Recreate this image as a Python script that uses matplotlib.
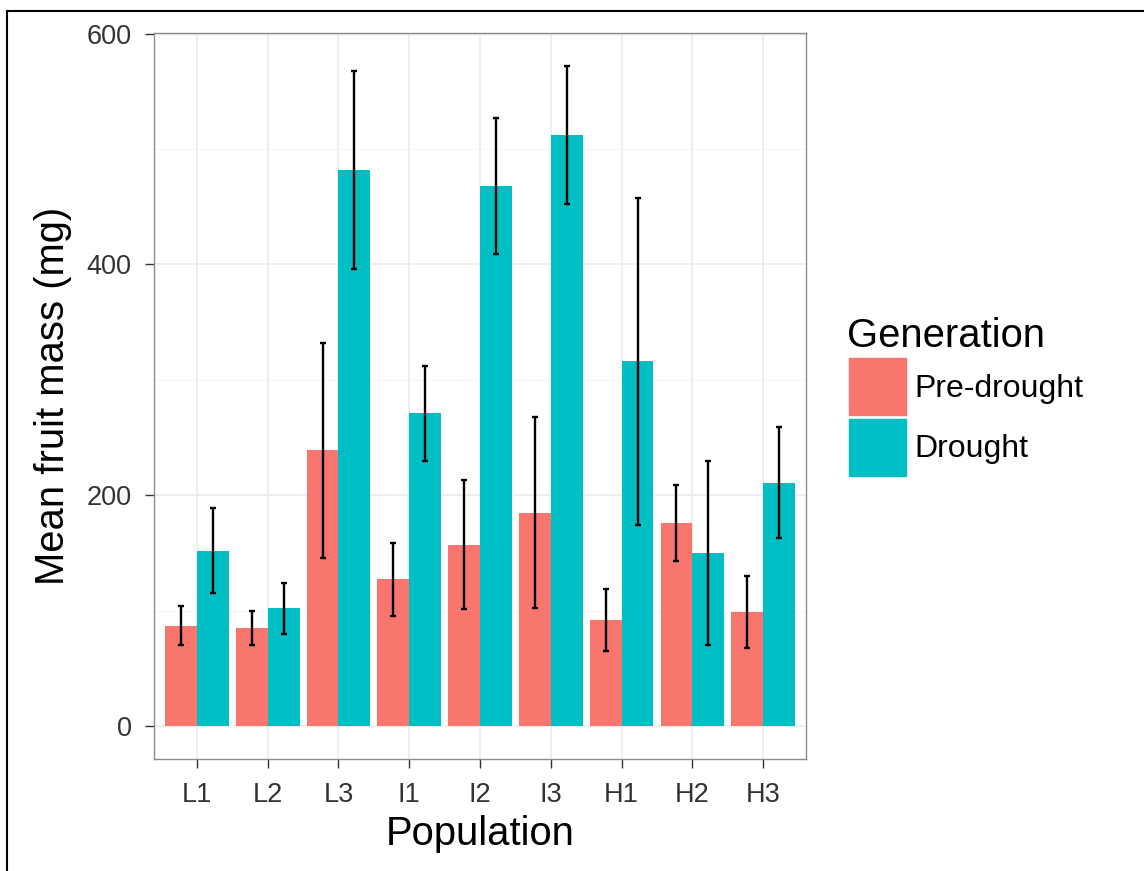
import matplotlib
matplotlib.use('Agg')
import matplotlib.pyplot as plt
import matplotlib.patches as mpatches
from matplotlib.lines import Line2D
import numpy as np

populations = ['L1', 'L2', 'L3', 'I1', 'I2', 'I3', 'H1', 'H2', 'H3']
generations = ['Pre-drought', 'Drought']
pre_mass = [87, 85, 239, 127, 157, 185, 92, 176, 99]
pre_err = [17, 15, 93, 32, 56, 83, 27, 33, 31]
drought_mass = [152, 102, 482, 271, 468, 512, 316, 150, 211]
drought_err = [37, 22, 86, 41, 59, 60, 142, 80, 48]
colors = ['#F8766D', '#00BFC4']
y_ticks = [0, 200, 400, 600]
y_minor = [100, 300, 500]

plt.rcParams['font.family'] = ['Liberation Sans', 'DejaVu Sans']

fig = plt.figure(figsize=(11.44, 8.71), dpi=100)
ax = fig.add_axes([0.135, 0.1286, 0.5692, 0.8335])

x = np.arange(1, len(populations) + 1)
w = 0.45
ax.bar(x - w / 2, pre_mass, w, color=colors[0], zorder=2)
ax.bar(x + w / 2, drought_mass, w, color=colors[1], zorder=2)
ax.errorbar(x - w / 2, pre_mass, yerr=pre_err, fmt='none', ecolor='black',
            elinewidth=1.7, capsize=2.5, capthick=1.7, zorder=3)
ax.errorbar(x + w / 2, drought_mass, yerr=drought_err, fmt='none', ecolor='black',
            elinewidth=1.7, capsize=2.5, capthick=1.7, zorder=3)

# ggplot-like expansion of the scales
top = max(max(np.add(pre_mass, pre_err)), max(np.add(drought_mass, drought_err)))
ax.set_ylim(-0.05 * top, 1.05 * top)
ax.set_xlim(0.4, len(populations) + 0.6)

ax.set_xticks(x)
ax.set_xticklabels(populations)
ax.set_yticks(y_ticks)
ax.set_yticks(y_minor, minor=True)
ax.set_axisbelow(True)
ax.grid(which='major', color='#ebebeb', lw=1.2)
ax.grid(which='minor', axis='y', color='#f4f4f4', lw=0.6)
ax.tick_params(which='major', length=6.5, width=1, color='#333333',
               labelsize=19.5, labelcolor='#333333', pad=10)
ax.tick_params(which='minor', length=0)
for s in ax.spines.values():
    s.set_color('#8c8c8c')
    s.set_linewidth(1)

ax.set_xlabel('Population', fontsize=28.8)
ax.xaxis.label.set_va('baseline')
ax.xaxis.set_label_coords(0.5, -0.1185)
ax.set_ylabel('Mean fruit mass (mg)', fontsize=28.8)
ax.yaxis.label.set_va('center')
ax.yaxis.set_label_coords(-0.1557, 0.5)

handles = [mpatches.Patch(color=colors[0]), mpatches.Patch(color=colors[1])]
leg = fig.legend(handles, generations, loc='upper left',
                 bbox_to_anchor=(849 / 1144, 1 - 358 / 871), frameon=False,
                 fontsize=23, handlelength=1.8, handleheight=2.39,
                 labelspacing=0.1, handletextpad=0.25, borderpad=0, borderaxespad=0)
fig.text(847 / 1144, 1 - 347 / 871, 'Generation', fontsize=28.8, va='baseline', ha='left')

# outer frame of the picture
fig.add_artist(Line2D([7 / 1144, 7 / 1144], [0, 1 - 11 / 871], transform=fig.transFigure,
                      color='black', lw=1.5))
fig.add_artist(Line2D([7 / 1144, 1], [1 - 11 / 871, 1 - 11 / 871], transform=fig.transFigure,
                      color='black', lw=1.5))

fig.savefig('out.png', dpi=100)
